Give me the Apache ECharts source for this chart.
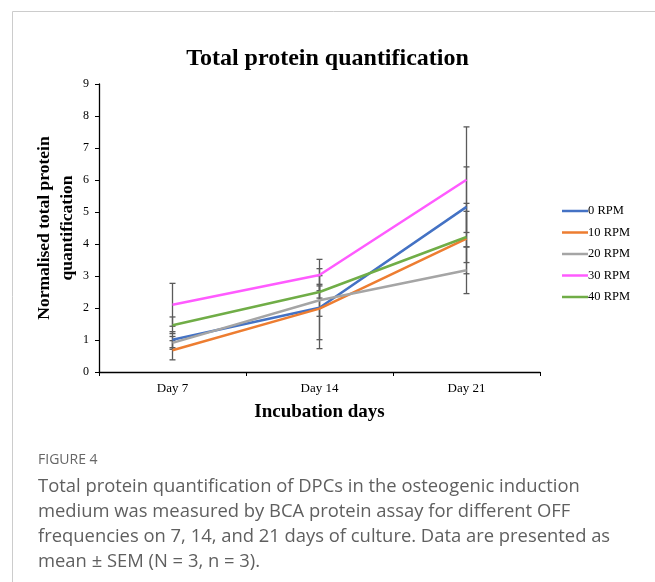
<!DOCTYPE html>
<html>
<head>
<meta charset="utf-8">
<script src="https://cdn.jsdelivr.net/npm/echarts@6/dist/echarts.min.js"></script>
<style>
html,body{margin:0;padding:0;background:#fff;}
#chart{width:655px;height:582px;}
</style>
</head>
<body>
<div id="chart"></div>
<script>
// ---- data ----
const categories = ['Day 7', 'Day 14', 'Day 21'];
const seriesNames = ['0 RPM', '10 RPM', '20 RPM', '30 RPM', '40 RPM'];
const rpm0  = [1.01, 2.01, 5.16];
const rpm10 = [0.68, 1.98, 4.17];
const rpm20 = [0.91, 2.24, 3.18];
const rpm30 = [2.10, 3.03, 6.01];
const rpm40 = [1.46, 2.50, 4.22];
const err0  = [0.25, 1.00, 1.25];
const err10 = [0.30, 1.25, 1.10];
const err20 = [0.20, 0.50, 0.73];
const err30 = [0.67, 0.49, 1.65];
const err40 = [0.26, 0.19, 0.80];
const yTicks = [0, 1, 2, 3, 4, 5, 6, 7, 8, 9];
const captionTitle = 'FIGURE 4';
const captionLines = [
  'Total protein quantification of DPCs in the osteogenic induction',
  'medium was measured by BCA protein assay for different OFF',
  'frequencies on 7, 14, and 21 days of culture. Data are presented as',
  'mean \u00B1 SEM (N = 3, n = 3).'
];

const values = [rpm0, rpm10, rpm20, rpm30, rpm40];
const errors = [err0, err10, err20, err30, err40];
const colors = ['#4472C4', '#ED7D31', '#A5A5A5', '#FF5BFF', '#70AD47'];
const serif = 'Liberation Serif';

const chart = echarts.init(document.getElementById('chart'), null, {renderer: 'canvas'});

const errSeries = values.map((vals, i) => ({
  type: 'custom',
  name: 'err' + i,
  z: 1,
  silent: true,
  data: vals.map((v, j) => [j, v - errors[i][j], v + errors[i][j]]),
  renderItem: function (params, api) {
    const x = api.value(0);
    const lo = api.coord([x, api.value(1)]);
    const hi = api.coord([x, api.value(2)]);
    const hw = 3;
    const st = {stroke: '#5a5a5a', lineWidth: 1.3};
    return {
      type: 'group',
      children: [
        {type: 'line', shape: {x1: lo[0], y1: lo[1], x2: hi[0], y2: hi[1]}, style: st},
        {type: 'line', shape: {x1: lo[0] - hw, y1: lo[1], x2: lo[0] + hw, y2: lo[1]}, style: st},
        {type: 'line', shape: {x1: hi[0] - hw, y1: hi[1], x2: hi[0] + hw, y2: hi[1]}, style: st}
      ]
    };
  }
}));

const lineSeries = values.map((vals, i) => ({
  type: 'line',
  name: seriesNames[i],
  data: vals,
  z: 3,
  symbol: 'none',
  lineStyle: {color: colors[i], width: 2.5},
  itemStyle: {color: colors[i]}
}));

const option = {
  backgroundColor: '#fff',
  animation: false,
  title: {
    text: 'Total protein quantification',
    left: 'center',
    top: 42,
    textStyle: {fontFamily: serif, fontWeight: 'bold', fontSize: 24, color: '#000'}
  },
  legend: {
    data: seriesNames,
    orient: 'vertical',
    left: 557,
    top: 199,
    icon: 'rect',
    itemWidth: 26,
    itemHeight: 2.5,
    itemGap: 7.5,
    textStyle: {fontFamily: serif, fontSize: 12.5, color: '#000', padding: [0, 0, 0, -5], lineHeight: 14}
  },
  grid: {left: 99, right: 115, top: 84, bottom: 210, containLabel: false},
  xAxis: {
    type: 'category',
    data: categories,
    boundaryGap: true,
    axisLine: {lineStyle: {color: '#000', width: 1.3}},
    axisTick: {show: true, length: 4, lineStyle: {color: '#000'}},
    axisLabel: {fontFamily: serif, fontSize: 13, color: '#000', margin: 10},
    name: 'Incubation days',
    nameLocation: 'middle',
    nameGap: 31,
    nameTextStyle: {fontFamily: serif, fontWeight: 'bold', fontSize: 19, color: '#000'}
  },
  yAxis: {
    type: 'value',
    min: yTicks[0],
    max: yTicks[yTicks.length - 1],
    interval: 1,
    splitLine: {show: false},
    axisLine: {show: true, lineStyle: {color: '#000', width: 1.3}},
    axisTick: {show: true, length: 4, lineStyle: {color: '#000'}},
    axisLabel: {fontFamily: serif, fontSize: 12, color: '#000', margin: 10},
    name: 'Normalised total protein\nquantification',
    nameLocation: 'middle',
    nameGap: 20,
    nameMoveOverlap: false,
    nameRotate: 90,
    nameTextStyle: {fontFamily: serif, fontWeight: 'bold', fontSize: 17.5, color: '#000', lineHeight: 23, align: 'center'}
  },
  graphic: [
    {type: 'polyline', silent: true, shape: {points: [[12.5, 582], [12.5, 11.5], [655, 11.5]]}, style: {stroke: '#cccccc', lineWidth: 1, fill: null}},
    {type: 'text', left: 38, top: 453, style: {text: captionTitle, font: '14px "Open Sans"', fill: '#666'}},
    {type: 'text', left: 38, top: 474, style: {text: captionLines.join('\n'), font: '18.4px "Open Sans"', fill: '#5f5f5f', lineHeight: 25}}
  ],
  series: errSeries.concat(lineSeries)
};

chart.setOption(option);
</script>
</body>
</html>
